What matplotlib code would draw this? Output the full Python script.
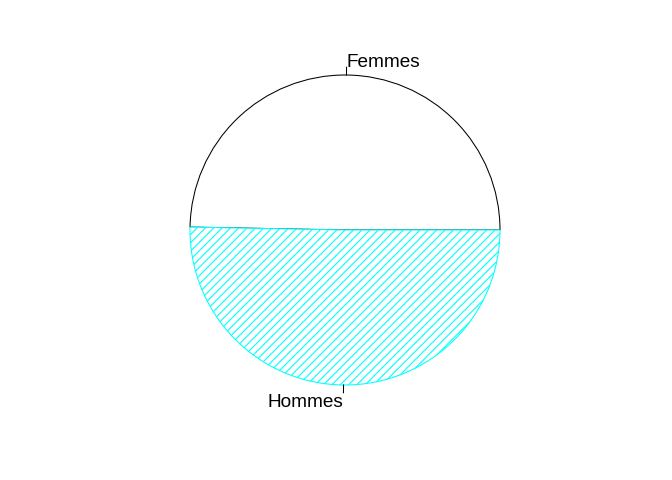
import numpy as np
import matplotlib.pyplot as plt

plt.rcParams['font.family'] = ['Liberation Sans', 'DejaVu Sans']
plt.rcParams['hatch.linewidth'] = 0.8

labels = ['Femmes', 'Hommes']
values = [49.7, 50.3]

fig = plt.figure(figsize=(6.72, 4.8), dpi=100)
ax = fig.add_axes([0, 0, 1, 1])

cx, cy, r = 345, 250, 155

wedges, _ = ax.pie(values, startangle=0, counterclock=True,
                   center=(cx, cy), radius=r, frame=True)
ax.set_xlim(0, 672)
ax.set_ylim(0, 480)
ax.set_aspect('equal')
ax.axis('off')

wedges[0].set_facecolor('white')
wedges[0].set_edgecolor('black')
wedges[0].set_linewidth(0.75)
wedges[1].set_facecolor('white')
wedges[1].set_edgecolor('cyan')
wedges[1].set_hatch('////')
wedges[1].set_linewidth(0.75)

# tick marks and labels placed the way R's pie() does
for w, lab in zip(wedges, labels):
    mid = np.deg2rad((w.theta1 + w.theta2) / 2)
    c, s = np.cos(mid), np.sin(mid)
    ax.plot([cx + r * c, cx + 1.05 * r * c], [cy + r * s, cy + 1.05 * r * s],
            color='black', lw=0.75)
    ax.text(cx + 1.1 * r * c, cy + 1.1 * r * s - 2.5, lab, fontsize=13.7,
            ha='left' if c > 0 else 'right', va='center')

fig.savefig('out.png', dpi=100)
